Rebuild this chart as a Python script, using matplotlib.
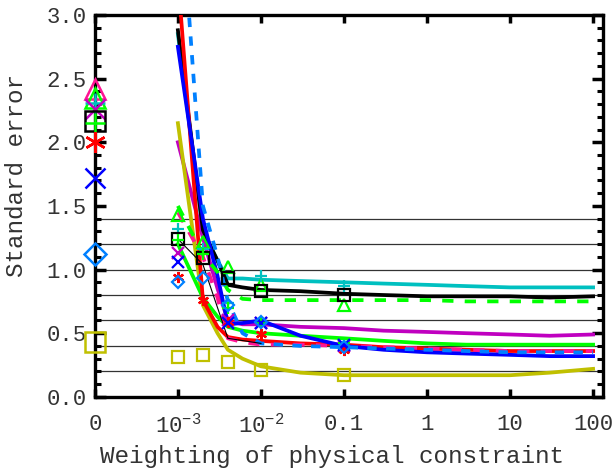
import numpy as np
import matplotlib
matplotlib.use('Agg')
import matplotlib.pyplot as plt
from matplotlib.ticker import MultipleLocator, NullLocator, FixedLocator

plt.rcParams['font.family'] = ['Liberation Mono', 'DejaVu Sans Mono']
plt.rcParams['mathtext.fontset'] = 'custom'
plt.rcParams['mathtext.rm'] = 'Liberation Mono'
plt.rcParams['mathtext.it'] = 'Liberation Mono'

# weighting values for the curves
line_x = [1e-3, 2e-3, 3e-3, 4e-3, 6e-3, 1e-2, 0.03, 0.1, 0.3, 1, 3, 10, 30, 100]

black_line = [2.88, 1.31, 1.07, 0.88, 0.86, 0.84, 0.83, 0.81, 0.80, 0.79, 0.79, 0.79, 0.78, 0.79]
cyan_line = [2.85, 1.30, 1.07, 0.93, 0.93, 0.92, 0.91, 0.90, 0.89, 0.88, 0.87, 0.86, 0.86, 0.86]
green_dash = [1.50, 1.12, 0.98, 0.84, 0.77, 0.76, 0.76, 0.76, 0.76, 0.76, 0.75, 0.75, 0.75, 0.75]
green_line = [1.20, 0.78, 0.63, 0.55, 0.52, 0.50, 0.48, 0.46, 0.44, 0.42, 0.41, 0.41, 0.41, 0.41]
red_line = [3.30, 0.76, 0.55, 0.47, 0.45, 0.44, 0.42, 0.41, 0.39, 0.38, 0.37, 0.36, 0.36, 0.36]
blue_line = [2.75, 1.40, 0.95, 0.57, 0.58, 0.60, 0.48, 0.40, 0.37, 0.35, 0.34, 0.33, 0.32, 0.32]
magenta_line = [2.00, 1.25, 0.85, 0.60, 0.57, 0.57, 0.55, 0.54, 0.52, 0.51, 0.50, 0.49, 0.48, 0.49]
olive_line = [2.15, 0.72, 0.50, 0.37, 0.30, 0.24, 0.19, 0.17, 0.17, 0.17, 0.17, 0.17, 0.19, 0.22]
pink_dash = [1.45, 1.10, 0.78, 0.46, 0.43, 0.41, 0.41, 0.40, 0.39, 0.38, 0.37, 0.36, 0.36, 0.36]
dodger_dash = [4.20, 1.50, 1.10, 0.75, 0.50, 0.42, 0.40, 0.39, 0.38, 0.37, 0.36, 0.35, 0.35, 0.35]

thin_x = [1e-3, 2e-3, 4e-3, 1e-2]
thin_line = [1.24, 1.04, 0.46, 0.42]

# symbols: first entry is the unconstrained (weight 0) case
mark_x = [0, 1e-3, 2e-3, 4e-3, 1e-2, 0.1]
pink_tri = [2.42, np.nan, np.nan, np.nan, np.nan, np.nan]
green_tri = [2.35, 1.43, 1.22, 1.02, 0.88, 0.72]
cyan_plus = [2.31, 1.32, 1.16, 0.74, 0.95, 0.87]
magenta_x = [2.26, 1.13, np.nan, 0.60, 0.58, 0.40]
black_sq = [2.17, 1.24, 1.09, 0.93, 0.83, 0.80]
green_plus = [2.15, 1.23, 1.12, 0.70, 0.58, 0.42]
red_star = [2.00, 0.94, 0.76, 0.59, 0.49, 0.37]
blue_x = [1.72, 1.06, np.nan, 0.58, 0.58, 0.41]
dodger_dia = [1.12, 0.90, 0.93, 0.72, 0.59, 0.39]
olive_sq = [0.43, 0.31, 0.33, 0.27, 0.21, 0.17]

ref_levels = [0.2, 0.4, 0.6, 0.8, 1.0, 1.2, 1.4]

xticks = [0, 1e-3, 1e-2, 0.1, 1, 10, 100]
xticklabels = ['0', r'$10^{-3}$', r'$10^{-2}$', '0.1', '1', '10', '100']

OLIVE = '#c0c000'
MAG = '#c000c0'
CYAN = '#00c0c0'
DODGER = '#0080ff'
PINK = '#ff1493'
LIME = '#00ff00'


def fwd(x):
    x = np.asarray(x, dtype=float)
    return np.log10(np.maximum(x, 1e-4))


def inv(y):
    return 10.0 ** np.asarray(y, dtype=float)


fig = plt.figure(figsize=(6.16, 4.68), dpi=100)
ax = fig.add_axes([0.154, 0.152, 0.825, 0.816])
ax.set_xscale('function', functions=(fwd, inv))

for lv in ref_levels:
    ax.axhline(lv, color='#333333', lw=0.9, zorder=1)

lw = 2.7
ax.plot(line_x, cyan_line, color=CYAN, lw=lw, zorder=2)
ax.plot(line_x, black_line, color='k', lw=lw, zorder=3)
ax.plot(line_x, magenta_line, color=MAG, lw=lw, zorder=2)
ax.plot(line_x, olive_line, color=OLIVE, lw=lw, zorder=2)
ax.plot(line_x, green_line, color=LIME, lw=lw, zorder=2)
ax.plot(line_x, red_line, color='r', lw=lw, zorder=3)
ax.plot(line_x, pink_dash, color=PINK, lw=lw, ls=(0, (3, 3)), zorder=3)
ax.plot(line_x, blue_line, color='b', lw=lw, zorder=3)
ax.plot(line_x, green_dash, color=LIME, lw=lw, ls=(0, (3, 3)), zorder=3)
ax.plot(line_x, dodger_dash, color=DODGER, lw=lw, ls=(0, (2.5, 2.5)), zorder=3)
ax.plot(thin_x, thin_line, color='k', lw=0.8, zorder=3)

symbols = [
    (pink_tri, PINK, '^'),
    (green_tri, LIME, '^'),
    (cyan_plus, CYAN, '+'),
    (magenta_x, MAG, 'x'),
    (black_sq, 'k', 's'),
    (green_plus, LIME, '+'),
    (red_star, 'r', (6, 2, 0)),
    (blue_x, 'b', 'x'),
    (dodger_dia, DODGER, 'D'),
    (olive_sq, OLIVE, 's'),
]
for vals, col, mk in symbols:
    small = 6.5 if mk == 'D' else 8
    big = 11 if mk == 'D' else 15
    ax.plot(mark_x[1:], vals[1:], ls='none', marker=mk, ms=small, mfc='none',
            mec=col, mew=1.6, zorder=5)
    ax.plot(mark_x[:1], vals[:1], ls='none', marker=mk, ms=big, mfc='none',
            mec=col, mew=1.8, zorder=6, clip_on=False)

ax.set_xlim(0, 10 ** 2.12)
ax.set_ylim(0, 3.0)

ax.xaxis.set_major_locator(FixedLocator(xticks))
ax.xaxis.set_minor_locator(NullLocator())
ax.set_xticklabels(xticklabels)
ax.yaxis.set_major_locator(MultipleLocator(0.5))
ax.yaxis.set_minor_locator(MultipleLocator(0.1))
ax.yaxis.set_major_formatter(plt.FormatStrFormatter('%.1f'))

ax.tick_params(axis='both', which='both', direction='in', top=True, right=True,
               labelsize=16, colors='k', labelcolor='#333333')
ax.tick_params(axis='y', which='major', length=8, width=2.5, pad=6)
ax.tick_params(axis='y', which='minor', length=4.5, width=2.2)
ax.tick_params(axis='x', which='major', length=6, width=2.5, pad=12)

for sp in ax.spines.values():
    sp.set_linewidth(2.4)

ax.set_xlabel('Weighting of physical constraint', fontsize=17.5, color='#333333')
ax.xaxis.set_label_coords(0.467, -0.125)
ax.set_ylabel('Standard error', fontsize=17.5, color='#333333')
ax.yaxis.set_label_coords(-0.132, 0.579)

fig.savefig('out.png', dpi=100)
